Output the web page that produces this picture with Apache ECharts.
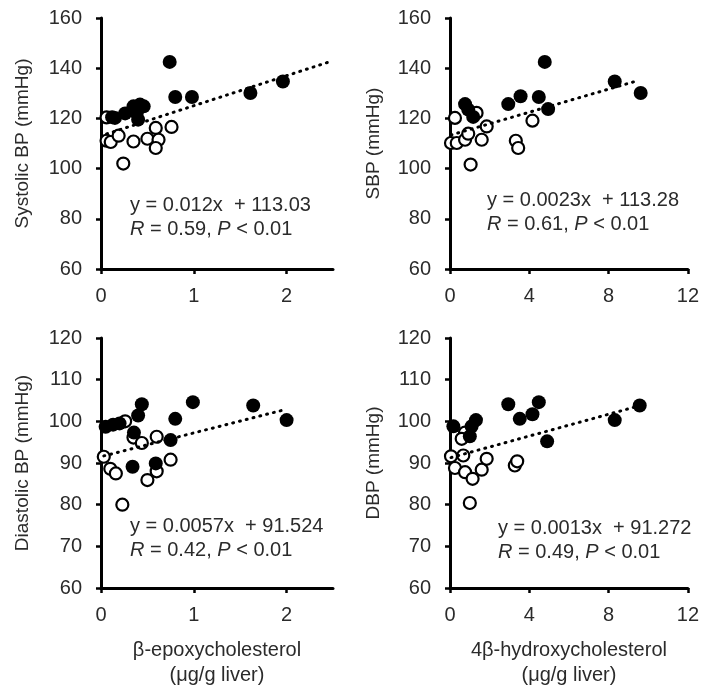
<!DOCTYPE html>
<html>
<head>
<meta charset="UTF-8">
<script src="https://cdn.jsdelivr.net/npm/echarts@6/dist/echarts.min.js"></script>
<style>
  html, body { margin: 0; padding: 0; background: #fff; }
  #main { width: 702px; height: 691px; }
</style>
</head>
<body>
<div id="main"></div>
<script>
// values (x in ug/g liver, y in mmHg)
var sbpEpoxyFilled = [[0.12, 120.5], [0.15, 120.2], [0.26, 122], [0.35, 124.8], [0.42, 125.5], [0.46, 124.8], [0.385, 122.1], [0.40, 119.5], [0.74, 142.5], [0.80, 128.5], [0.98, 128.5], [1.61, 130.1], [1.96, 134.7]];
var sbpEpoxyOpen = [[0.06, 120.4], [0.06, 111.1], [0.105, 110.6], [0.19, 113.1], [0.24, 102], [0.35, 110.8], [0.50, 111.9], [0.59, 116.2], [0.62, 111.5], [0.59, 108.2], [0.76, 116.6]];
var sbpEpoxyTrend = [[0.06, 113.8], [2.5, 143]];

var sbpHydroxyFilled = [[0.76, 125.7], [0.92, 123.5], [1.17, 120.6], [2.94, 125.7], [3.56, 128.8], [4.48, 128.5], [4.95, 123.7], [4.78, 142.5], [8.31, 134.7], [9.62, 130.1]];
var sbpHydroxyOpen = [[0.25, 120.2], [0.05, 110.2], [0.34, 110.2], [0.76, 111.5], [0.92, 113.9], [1.34, 122.2], [1.85, 116.8], [1.6, 111.5], [1.04, 101.6], [3.32, 111.1], [3.44, 108.2], [4.16, 119.1]];
var sbpHydroxyTrend = [[0.05, 113.4], [9.5, 135.1]];

var dbpEpoxyFilled = [[0.05, 98.7], [0.13, 99.2], [0.2, 99.5], [0.40, 101.4], [0.44, 104.1], [0.355, 97.3], [0.34, 89.1], [0.59, 89.9], [0.75, 95.5], [0.80, 100.6], [0.99, 104.6], [1.64, 103.8], [2.0, 100.3]];
var dbpEpoxyOpen = [[0.03, 91.5], [0.1, 88.6], [0.16, 87.5], [0.23, 80], [0.26, 100], [0.35, 96.1], [0.44, 94.8], [0.60, 96.3], [0.50, 85.9], [0.60, 88], [0.75, 90.8]];
var dbpEpoxyTrend = [[0.03, 91.7], [1.98, 102.8]];

var dbpHydroxyFilled = [[0.17, 98.8], [1.0, 96.4], [1.09, 98.8], [1.31, 100.3], [2.94, 104.1], [3.52, 100.6], [4.16, 101.7], [4.48, 104.6], [4.9, 95.2], [8.31, 100.3], [9.57, 103.8]];
var dbpHydroxyOpen = [[0.05, 91.6], [0.25, 88.8], [0.76, 97.3], [0.59, 95.8], [0.67, 91.8], [0.76, 87.8], [1.14, 86.2], [1.0, 80.4], [1.6, 88.4], [1.85, 91], [3.27, 89.4], [3.39, 90.4]];
var dbpHydroxyTrend = [[0.05, 91.3], [9.3, 103.4]];

var epoxyTicks = [0, 1, 2];
var hydroxyTicks = [0, 4, 8, 12];

var font = 'Liberation Sans, Arial, sans-serif';
var textColor = '#2b2b2b';

var grids = [
    {left: 101, top: 18, width: 232, height: 251},
    {left: 450, top: 18, width: 238, height: 251},
    {left: 101, top: 338, width: 232, height: 250},
    {left: 450, top: 338, width: 238, height: 250}
];

function xAxisFor(i, max, interval, ticks, name) {
    return {
        type: 'value', gridIndex: i, min: 0, max: max, interval: interval,
        splitLine: {show: false},
        axisLine: {onZero: false, lineStyle: {color: '#000', width: 3}},
        axisTick: {length: 5, lineStyle: {color: '#000', width: 2.5}, customValues: ticks},
        axisLabel: {margin: 17, fontSize: 20, fontFamily: font, color: textColor, customValues: ticks},
        name: name, nameLocation: 'middle', nameGap: 50,
        nameTextStyle: {fontSize: 20, fontFamily: font, color: textColor, lineHeight: 25}
    };
}

function yAxisFor(i, max, interval, name, gap) {
    return {
        type: 'value', gridIndex: i, min: 60, max: max, interval: interval,
        splitLine: {show: false},
        axisLine: {show: true, onZero: false, lineStyle: {color: '#000', width: 3}},
        axisTick: {show: true, length: 5, lineStyle: {color: '#000', width: 2.5}},
        axisLabel: {margin: 19, fontSize: 20, fontFamily: font, color: textColor},
        name: name, nameLocation: 'middle', nameGap: gap,
        nameTextStyle: {fontSize: 19, fontFamily: font, color: textColor}
    };
}

function panelSeries(i, open, filled, trend) {
    return [{
        type: 'scatter', xAxisIndex: i, yAxisIndex: i, data: open,
        symbol: 'circle', symbolSize: 12,
        itemStyle: {color: '#fff', borderColor: '#000', borderWidth: 2.2, opacity: 1}
    }, {
        type: 'scatter', xAxisIndex: i, yAxisIndex: i, data: filled,
        symbol: 'circle', symbolSize: 14,
        itemStyle: {color: '#000', opacity: 1}
    }, {
        type: 'line', xAxisIndex: i, yAxisIndex: i, data: trend,
        symbol: 'none', silent: true,
        lineStyle: {color: '#000', width: 3, type: [1, 6], cap: 'round'}
    }];
}

function note(x, y, eq, stats) {
    return {
        type: 'group', left: x, top: y,
        children: [{
            type: 'text', x: 0, y: 0,
            style: {text: eq, font: '20px ' + font, fill: textColor}
        }, {
            type: 'text', x: 0, y: 24,
            style: {
                text: stats, font: '20px ' + font, fill: textColor,
                rich: {i: {fontStyle: 'italic', fontSize: 20, fontFamily: font, fill: textColor}}
            }
        }]
    };
}

var xTitle1 = 'β-epoxycholesterol\n(μg/g liver)';
var xTitle2 = '4β-hydroxycholesterol\n(μg/g liver)';

var myChart = echarts.init(document.getElementById('main'));
var option = {
    animation: false,
    grid: grids,
    xAxis: [
        xAxisFor(0, 2.5, 1, epoxyTicks, ''),
        xAxisFor(1, 12, 4, hydroxyTicks, ''),
        xAxisFor(2, 2.5, 1, epoxyTicks, xTitle1),
        xAxisFor(3, 12, 4, hydroxyTicks, xTitle2)
    ],
    yAxis: [
        yAxisFor(0, 160, 20, 'Systolic BP (mmHg)', 69),
        yAxisFor(1, 160, 20, 'SBP (mmHg)', 67),
        yAxisFor(2, 120, 10, 'Diastolic BP (mmHg)', 69),
        yAxisFor(3, 120, 10, 'DBP (mmHg)', 67)
    ],
    series: [].concat(
        panelSeries(0, sbpEpoxyOpen, sbpEpoxyFilled, sbpEpoxyTrend),
        panelSeries(1, sbpHydroxyOpen, sbpHydroxyFilled, sbpHydroxyTrend),
        panelSeries(2, dbpEpoxyOpen, dbpEpoxyFilled, dbpEpoxyTrend),
        panelSeries(3, dbpHydroxyOpen, dbpHydroxyFilled, dbpHydroxyTrend)
    ),
    graphic: [
        note(130, 195, 'y = 0.012x  + 113.03', '{i|R} = 0.59, {i|P} < 0.01'),
        note(487, 190, 'y = 0.0023x  + 113.28', '{i|R} = 0.61, {i|P} < 0.01'),
        note(130, 516, 'y = 0.0057x  + 91.524', '{i|R} = 0.42, {i|P} < 0.01'),
        note(498, 518, 'y = 0.0013x  + 91.272', '{i|R} = 0.49, {i|P} < 0.01')
    ]
};
myChart.setOption(option);
</script>
</body>
</html>
